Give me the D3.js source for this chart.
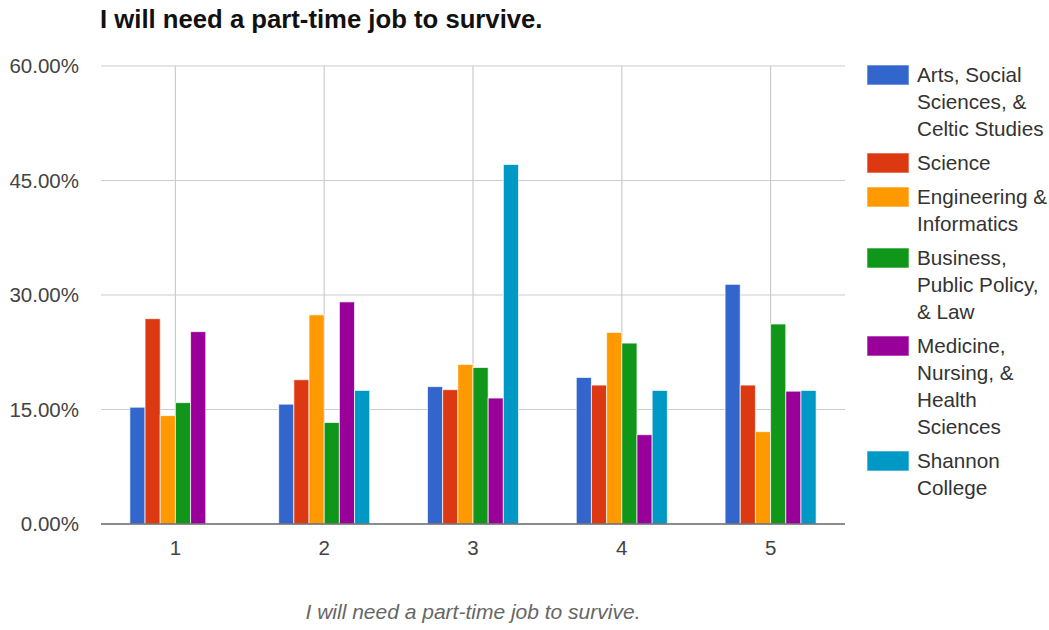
<!DOCTYPE html>
<html>
<head>
<meta charset="utf-8">
<script src="https://cdn.jsdelivr.net/npm/d3@7"></script>
<style>
  html, body { margin: 0; padding: 0; background: #fff; }
  svg { display: block; font-family: Arial, "Liberation Sans", sans-serif; }
</style>
</head>
<body>
<svg id="chart" width="1049" height="630"></svg>
<script>
// Survey responses: "I will need a part-time job to survive." (1 = strongly disagree … 5 = strongly agree)
const categories = ["1", "2", "3", "4", "5"];

const seriesLegendLines = [
  ["Arts, Social", "Sciences, &", "Celtic Studies"],
  ["Science"],
  ["Engineering &", "Informatics"],
  ["Business,", "Public Policy,", "& Law"],
  ["Medicine,", "Nursing, &", "Health", "Sciences"],
  ["Shannon", "College"]
];
const seriesColors = ["#3366cc", "#dc3912", "#ff9900", "#109618", "#990099", "#0099c6"];

// Percent of respondents per faculty, one array per faculty across the five answers
const artsValues        = [15.3, 15.7, 18.0, 19.2, 31.4];
const scienceValues     = [26.9, 18.9, 17.6, 18.2, 18.2];
const engineeringValues = [14.2, 27.4, 20.9, 25.1, 12.1];
const businessValues    = [15.9, 13.3, 20.5, 23.7, 26.2];
const medicineValues    = [25.2, 29.1, 16.5, 11.7, 17.4];
const shannonValues     = [0.0, 17.5, 47.1, 17.5, 17.5];

const seriesValues = [artsValues, scienceValues, engineeringValues, businessValues, medicineValues, shannonValues];

const yTicks = [0, 15, 30, 45, 60];
const chartTitle = "I will need a part-time job to survive.";
const xAxisTitle = "I will need a part-time job to survive.";

const svg = d3.select("#chart");

const plot = { left: 101, right: 845, top: 66, bottom: 524 };

const x = d3.scaleBand().domain(categories).range([plot.left, plot.right]).padding(0);
const seriesIdx = d3.range(seriesValues.length);
const groupWidth = x.bandwidth() * 0.612;
const x1 = d3.scaleBand().domain(seriesIdx).range([-groupWidth / 2, groupWidth / 2]).padding(0);
const y = d3.scaleLinear().domain([0, 60]).range([plot.bottom, plot.top]);

// Title
svg.append("text")
  .attr("x", 100).attr("y", 27.5)
  .attr("font-size", 25.7).attr("font-weight", "bold").attr("fill", "#111")
  .text(chartTitle);

// Horizontal gridlines
svg.append("g").selectAll("line").data(yTicks.filter(t => t !== 0)).join("line")
  .attr("x1", plot.left).attr("x2", plot.right)
  .attr("y1", d => y(d)).attr("y2", d => y(d))
  .attr("stroke", "#cccccc").attr("stroke-width", 1.2);

// Vertical gridlines at each category
svg.append("g").selectAll("line").data(categories).join("line")
  .attr("x1", d => x(d) + x.bandwidth() / 2).attr("x2", d => x(d) + x.bandwidth() / 2)
  .attr("y1", plot.top).attr("y2", plot.bottom)
  .attr("stroke", "#cccccc").attr("stroke-width", 1.2);

// Y axis labels
const yAxis = d3.axisLeft(y).tickValues(yTicks).tickSize(0).tickPadding(0)
  .tickFormat(d => d3.format(".2f")(d) + "%");
const yG = svg.append("g").attr("transform", `translate(${plot.left - 22},0)`).call(yAxis);
yG.select(".domain").remove();
yG.selectAll("text").attr("font-size", 20.5).attr("fill", "#444").attr("font-family", "Arial, 'Liberation Sans', sans-serif");

// Bars
const groups = svg.append("g").selectAll("g").data(categories).join("g")
  .attr("transform", d => `translate(${x(d) + x.bandwidth() / 2},0)`);

groups.selectAll("rect")
  .data((c, ci) => seriesIdx.map(s => ({ s, v: seriesValues[s][ci] })).filter(d => d.v > 0))
  .join("rect")
  .attr("x", d => x1(d.s))
  .attr("width", x1.bandwidth())
  .attr("y", d => y(d.v))
  .attr("height", d => y(0) - y(d.v))
  .attr("fill", d => seriesColors[d.s])
  .attr("stroke", "#ffffff").attr("stroke-opacity", 0.7).attr("stroke-width", 1);

// Baseline
svg.append("line")
  .attr("x1", plot.left).attr("x2", plot.right)
  .attr("y1", y(0)).attr("y2", y(0))
  .attr("stroke", "#666").attr("stroke-width", 1.5);

// X axis labels
const xAxis = d3.axisBottom(x).tickSize(0).tickPadding(0);
const xG = svg.append("g").attr("transform", `translate(0,${plot.bottom + 31})`).call(xAxis);
xG.select(".domain").remove();
xG.selectAll("text").attr("font-size", 20.5).attr("fill", "#444").attr("dy", 0)
  .attr("font-family", "Arial, 'Liberation Sans', sans-serif");

// X axis title
svg.append("text")
  .attr("x", (plot.left + plot.right) / 2).attr("y", 619)
  .attr("text-anchor", "middle")
  .attr("font-size", 21).attr("font-style", "italic").attr("fill", "#666")
  .text(xAxisTitle);

// Legend
const legend = svg.append("g");
let ly = 75;
seriesLegendLines.forEach((lines, i) => {
  legend.append("rect")
    .attr("x", 867).attr("y", ly - 10).attr("width", 42).attr("height", 20)
    .attr("fill", seriesColors[i])
    .attr("stroke", "#fff").attr("stroke-opacity", 0.6);
  const t = legend.append("text")
    .attr("x", 917).attr("y", ly + 7)
    .attr("font-size", 20.7).attr("fill", "#333");
  lines.forEach((ln, j) => {
    t.append("tspan").attr("x", 917).attr("dy", j === 0 ? 0 : 27).text(ln);
  });
  ly += lines.length * 27 + 7;
});
</script>
</body>
</html>
